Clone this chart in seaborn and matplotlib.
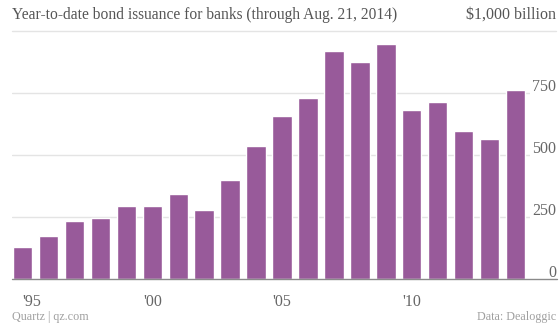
import matplotlib
matplotlib.use("Agg")
import matplotlib.pyplot as plt
import matplotlib.transforms as mtransforms
import seaborn as sns
import pandas as pd

years = list(range(1995, 2015))
issuance = [128, 175, 235, 247, 296, 296, 341, 278, 398, 537,
            658, 729, 918, 874, 946, 683, 712, 597, 563, 763]
xtick_years = [1995, 2000, 2005, 2010]
xtick_labels = ["'95", "'00", "'05", "'10"]
ytick_values = [0, 250, 500, 750]
ytick_labels = ["0", "250", "500", "750"]
title = "Year-to-date bond issuance for banks (through Aug. 21, 2014)"
unit_label = "$1,000 billion"
source_left = "Quartz | qz.com"
source_right = "Data: Dealoggic"

sns.set_theme(style="white")
plt.rcParams["font.family"] = ["Liberation Serif", "DejaVu Serif"]

BAR = "#985a9a"
GRID = "#e4e4e4"
TXT = "#666666"

df = pd.DataFrame({"year": [str(y) for y in years], "value": issuance})

W, H = 560, 325
fig = plt.figure(figsize=(W / 100, H / 100), dpi=100)
ax = fig.add_axes([12 / W, (H - 279) / H, 518 / W, 248 / H])

sns.barplot(data=df, x="year", y="value", color=BAR, saturation=1,
            width=0.75, ax=ax, zorder=3)

ax.set_ylim(0, 1000)
ax.set_xlim(-0.41, 19.56)
ax.set_xlabel("")
ax.set_ylabel("")
for s in ax.spines.values():
    s.set_visible(False)

# gridlines
for v in [250, 500, 750]:
    ax.axhline(v, color=GRID, lw=1, zorder=1)
ax.axhline(1000, xmin=0, xmax=(556 - 12) / 518, color=GRID, lw=1,
           zorder=1, clip_on=False)
ax.axhline(0, xmin=0, xmax=(557 - 12) / 518, color="#8a8a8a", lw=1,
           zorder=4, clip_on=False)

# x ticks
pos = [years.index(y) for y in xtick_years]
ax.set_xticks(pos)
ax.set_xticklabels(xtick_labels)
ax.tick_params(axis="x", length=0, pad=11, labelsize=11.5, colors=TXT)
ax.get_xticklabels()[0].set_horizontalalignment("left")

# y ticks on right
ax.yaxis.tick_right()
ax.set_yticks(ytick_values)
ax.set_yticklabels(ytick_labels)
ax.tick_params(axis="y", length=0, pad=19, labelsize=11.5, colors=TXT)
off = mtransforms.ScaledTranslation(0, 8 / 100, fig.dpi_scale_trans)
for lab in ax.get_yticklabels():
    lab.set_horizontalalignment("right")
    lab.set_transform(lab.get_transform() + off)

fig.text(12 / W, 1 - 15 / H, title, ha="left", va="center",
         fontsize=11.2, color="#555555")
fig.text(556 / W, 1 - 15 / H, unit_label, ha="right", va="center",
         fontsize=11.5, color="#555555")
fig.text(12 / W, 1 - 317 / H, source_left, ha="left", va="center",
         fontsize=8.7, color="#a0a0a0")
fig.text(556 / W, 1 - 317 / H, source_right, ha="right", va="center",
         fontsize=8.7, color="#a0a0a0")

fig.savefig("out.png", dpi=100)
